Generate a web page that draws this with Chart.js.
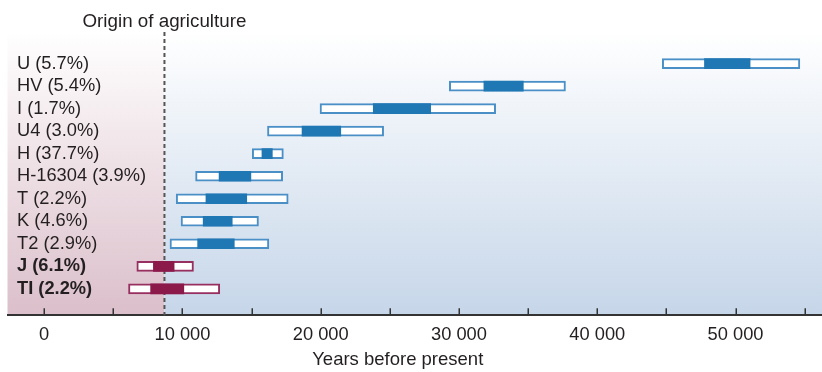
<!DOCTYPE html>
<html>
<head>
<meta charset="utf-8">
<script src="https://cdn.jsdelivr.net/npm/chart.js@4/dist/chart.umd.min.js"></script>
<style>
  html, body { margin: 0; padding: 0; background: #ffffff; }
  #wrap { width: 822px; height: 372px; position: relative; }
</style>
</head>
<body>
<div id="wrap"><canvas id="c" width="822" height="372"></canvas></div>
<script>
// ---- data ----
const categories = ['U (5.7%)', 'HV (5.4%)', 'I (1.7%)', 'U4 (3.0%)', 'H (37.7%)', 'H-16304 (3.9%)', 'T (2.2%)', 'K (4.6%)', 'T2 (2.9%)', 'J (6.1%)', 'TI (2.2%)'];
const rangeLow  = [44700, 29300, 19950, 16150, 15050, 10950, 9550, 9900, 9100, 6700, 6100];
const rangeHigh = [54650, 37700, 32650, 24550, 17300, 17250, 17650, 15500, 16250, 10800, 12700];
const coreLow   = [47750, 31800, 23800, 18650, 15750, 12650, 11700, 11500, 11100, 7900, 7700];
const coreHigh  = [51050, 34650, 27950, 21450, 16500, 14950, 14650, 13600, 13750, 9400, 10100];
const highlighted = [false, false, false, false, false, false, false, false, false, true, true];
const agricultureOrigin = 8700;
const agricultureLabel = 'Origin of agriculture';
const xAxisTitle = 'Years before present';
const xTicks = [0, 5000, 10000, 15000, 20000, 25000, 30000, 35000, 40000, 45000, 50000, 55000];
const xTickLabels = ['0', '', '10 000', '', '20 000', '', '30 000', '', '40 000', '', '50 000', ''];

const FONT = "'Liberation Sans', Arial, Helvetica, sans-serif";
const TEXT = '#231f20';
const BLUE = '#1f77b4', BLUE_EDGE = '#4a8fc6';
const RED = '#8b1a4b', RED_EDGE = '#973060';

const coreData = categories.map((c, i) => ({ y: i, x: [coreLow[i], coreHigh[i]] }));
const rangeData = categories.map((c, i) => ({ y: i, x: [rangeLow[i], rangeHigh[i]] }));

const bgPlugin = {
  id: 'bg',
  beforeDraw(chart) {
    const { ctx, chartArea: a, scales: { x } } = chart;
    const xd = x.getPixelForValue(agricultureOrigin);
    ctx.save();
    let g = ctx.createLinearGradient(0, a.top, 0, a.bottom);
    g.addColorStop(0, '#ffffff');
    g.addColorStop(1, '#dbbfca');
    ctx.fillStyle = g;
    ctx.fillRect(a.left, a.top, xd - a.left, a.bottom - a.top);
    g = ctx.createLinearGradient(0, a.top, 0, a.bottom);
    g.addColorStop(0, '#ffffff');
    g.addColorStop(1, '#c6d6e9');
    ctx.fillStyle = g;
    ctx.fillRect(xd, a.top, a.right - xd, a.bottom - a.top);
    ctx.restore();
  },
  beforeDatasetsDraw(chart) {
    const { ctx, chartArea: a, scales: { x } } = chart;
    const xd = x.getPixelForValue(agricultureOrigin);
    ctx.save();
    ctx.strokeStyle = '#555555';
    ctx.lineWidth = 2;
    ctx.setLineDash([4, 3]);
    ctx.beginPath();
    ctx.moveTo(xd, a.top);
    ctx.lineTo(xd, a.bottom);
    ctx.stroke();
    ctx.setLineDash([]);
    // tick marks pointing up into the plot
    ctx.strokeStyle = '#333333';
    ctx.lineWidth = 1.5;
    x.ticks.forEach(t => {
      const px = Math.round(x.getPixelForValue(t.value)) + 0.25;
      ctx.beginPath();
      ctx.moveTo(px, a.bottom - 7);
      ctx.lineTo(px, a.bottom);
      ctx.stroke();
    });
    ctx.restore();
  },
  afterDraw(chart) {
    const { ctx, chartArea: a, scales: { x } } = chart;
    ctx.save();
    ctx.fillStyle = TEXT;
    ctx.textAlign = 'center';
    ctx.textBaseline = 'alphabetic';
    ctx.font = '18.8px ' + FONT;
    ctx.fillText(agricultureLabel, x.getPixelForValue(agricultureOrigin), 26.5);
    ctx.font = '18.5px ' + FONT;
    ctx.fillText(xAxisTitle, (a.left + a.right) / 2 - 17, 364.5);
    ctx.restore();
  }
};

new Chart(document.getElementById('c'), {
  type: 'bar',
  data: {
    datasets: [
      { label: 'core', data: coreData, backgroundColor: highlighted.map(h => h ? RED : BLUE), borderWidth: 0, barThickness: 10, grouped: false },
      { label: 'range', data: rangeData, backgroundColor: '#ffffff', borderColor: highlighted.map(h => h ? RED_EDGE : BLUE_EDGE), borderWidth: 2, borderSkipped: false, barThickness: 10, grouped: false }
    ]
  },
  options: {
    indexAxis: 'y',
    responsive: false,
    animation: false,
    layout: { padding: { top: 32, left: -11.5, right: 0, bottom: 17.6 } },
    plugins: { legend: { display: false }, tooltip: { enabled: false } },
    scales: {
      x: {
        type: 'linear',
        min: -2650,
        max: 56250,
        grid: { display: false, drawTicks: false },
        border: { display: true, color: '#333333', width: 2 },
        afterBuildTicks: s => { s.ticks = xTicks.map(v => ({ value: v })); },
        ticks: {
          autoSkip: false,
          maxRotation: 0,
          padding: 8.6,
          color: TEXT,
          font: { size: 18.3, family: FONT },
          callback: (v, i) => xTickLabels[i]
        }
      },
      y: {
        type: 'linear',
        reverse: true,
        min: -0.83,
        max: 10.6,
        grid: { display: false, drawTicks: false },
        border: { display: false },
        afterBuildTicks: s => { s.ticks = categories.map((c, i) => ({ value: i })); },
        ticks: {
          mirror: true,
          padding: 9.5,
          autoSkip: false,
          color: TEXT,
          font: ctx => ({ size: 18.3, family: FONT, weight: (ctx.tick && highlighted[ctx.tick.value]) ? 'bold' : 'normal' }),
          callback: v => categories[v]
        }
      }
    }
  },
  plugins: [bgPlugin]
});
</script>
</body>
</html>
